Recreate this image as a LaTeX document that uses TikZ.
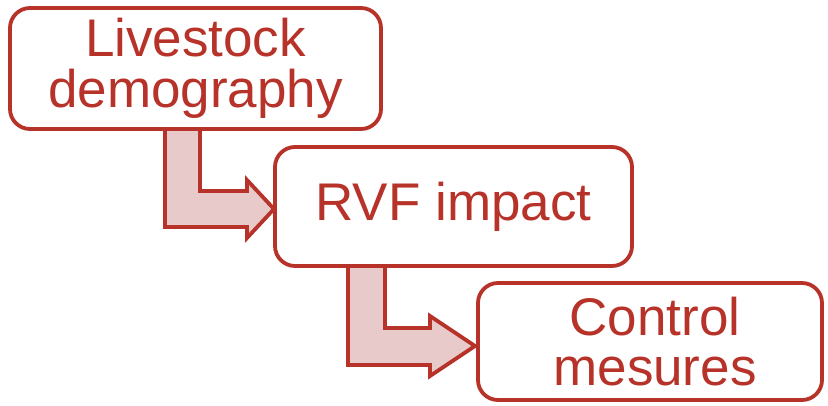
\documentclass[tikz,border=0pt]{standalone}
\usepackage{fontspec}
\setmainfont{Liberation Sans}
\definecolor{rvfred}{RGB}{183,50,40}
\definecolor{rvfpink}{RGB}{232,202,202}
\begin{document}
\begin{tikzpicture}[x=1pt,y=-1pt,
  box/.style={draw=rvfred, line width=3.8pt, fill=white, rounded corners=20pt,
    inner sep=0pt, align=center, text=rvfred,
    font=\fontsize{53}{50.5}\selectfont},
  bentarrow/.style={draw=rvfred, line width=3.8pt, fill=rvfpink, line join=miter}]
\useasboundingbox (0,0) rectangle (828,405);
% bent arrows (drawn first, under the boxes)
\draw[bentarrow] (165,128) -- (165,227) -- (247,227) -- (247,238) -- (274,209)
  -- (247,180) -- (247,191) -- (200,191) -- (200,128) -- cycle;
\draw[bentarrow] (348,265) -- (348,365) -- (430,365) -- (430,376) -- (475,346)
  -- (430,316) -- (430,328) -- (385,328) -- (385,265) -- cycle;
% boxes
\node[box, minimum width=371pt, minimum height=121pt] (b1) at (195.5,68.5)
  {Livestock\\demography};
\node[box, minimum width=357pt, minimum height=119pt] (b2) at (453.5,206.5)
  {RVF impact};
\node[box, minimum width=344pt, minimum height=117pt] (b3) at (650,341.5)
  {\hspace*{10pt}Control\\\hspace*{10pt}mesures};
\end{tikzpicture}
\end{document}
